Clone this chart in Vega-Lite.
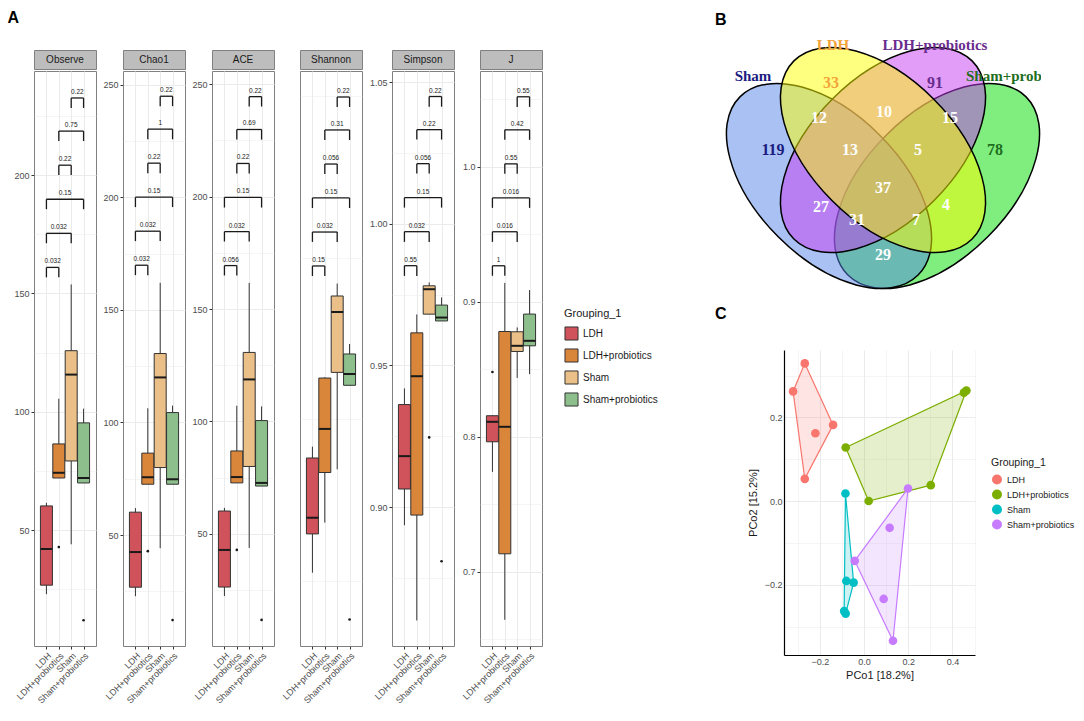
{
"$schema": "https://vega.github.io/schema/vega-lite/v6.json",
"background": "white",
"padding": {"left": 7, "top": 9, "right": 0, "bottom": 0},
"datasets": {
"boxes": [
{"metric":"Observe","group":"LDH","gi":1,"lo":22.9,"q1":26.7,"med":42,"q3":60.2,"hi":61.5},
{"metric":"Observe","group":"LDH+probiotics","gi":2,"lo":72,"q1":72,"med":74.2,"q3":86.4,"hi":105.5},
{"metric":"Observe","group":"Sham","gi":3,"lo":44,"q1":79.2,"med":115.7,"q3":125.8,"hi":153.8},
{"metric":"Observe","group":"Sham+probiotics","gi":4,"lo":69.9,"q1":69.9,"med":72,"q3":95.3,"hi":101.3},
{"metric":"Chao1","group":"LDH","gi":1,"lo":22.9,"q1":26.9,"med":42.5,"q3":60.2,"hi":62},
{"metric":"Chao1","group":"LDH+probiotics","gi":2,"lo":72.6,"q1":72.6,"med":75.7,"q3":86.4,"hi":106.3},
{"metric":"Chao1","group":"Sham","gi":3,"lo":44.2,"q1":80,"med":120,"q3":130.6,"hi":162},
{"metric":"Chao1","group":"Sham+probiotics","gi":4,"lo":72.6,"q1":72.6,"med":74.8,"q3":104.4,"hi":107.5},
{"metric":"ACE","group":"LDH","gi":1,"lo":22.4,"q1":26.4,"med":42.9,"q3":60.2,"hi":61.6},
{"metric":"ACE","group":"LDH+probiotics","gi":2,"lo":72.7,"q1":72.7,"med":75.3,"q3":86.9,"hi":107},
{"metric":"ACE","group":"Sham","gi":3,"lo":43.8,"q1":80,"med":118.7,"q3":130.7,"hi":161.6},
{"metric":"ACE","group":"Sham+probiotics","gi":4,"lo":71.3,"q1":71.3,"med":72.7,"q3":100.4,"hi":106.7},
{"metric":"Shannon","group":"LDH","gi":1,"lo":2.55,"q1":2.79,"med":2.89,"q3":3.26,"hi":3.33},
{"metric":"Shannon","group":"LDH+probiotics","gi":2,"lo":2.86,"q1":3.17,"med":3.44,"q3":3.755,"hi":3.76},
{"metric":"Shannon","group":"Sham","gi":3,"lo":3.19,"q1":3.79,"med":4.164,"q3":4.263,"hi":4.34},
{"metric":"Shannon","group":"Sham+probiotics","gi":4,"lo":3.71,"q1":3.71,"med":3.78,"q3":3.904,"hi":3.966},
{"metric":"Simpson","group":"LDH","gi":1,"lo":0.8936,"q1":0.9064,"med":0.918,"q3":0.9362,"hi":0.9419},
{"metric":"Simpson","group":"LDH+probiotics","gi":2,"lo":0.86,"q1":0.8972,"med":0.9462,"q3":0.9615,"hi":0.968},
{"metric":"Simpson","group":"Sham","gi":3,"lo":0.9681,"q1":0.9681,"med":0.9769,"q3":0.9781,"hi":0.9793},
{"metric":"Simpson","group":"Sham+probiotics","gi":4,"lo":0.9657,"q1":0.9657,"med":0.9669,"q3":0.9713,"hi":0.974},
{"metric":"J","group":"LDH","gi":1,"lo":0.774,"q1":0.7963,"med":0.8111,"q3":0.8156,"hi":0.8156},
{"metric":"J","group":"LDH+probiotics","gi":2,"lo":0.6644,"q1":0.7133,"med":0.8074,"q3":0.878,"hi":0.914},
{"metric":"J","group":"Sham","gi":3,"lo":0.8436,"q1":0.8632,"med":0.8674,"q3":0.8778,"hi":0.881},
{"metric":"J","group":"Sham+probiotics","gi":4,"lo":0.8464,"q1":0.8674,"med":0.8711,"q3":0.8909,"hi":0.9087}
],
"outliers": [
{"metric":"Observe","gi":2,"v":42.8},{"metric":"Observe","gi":4,"v":11.9},
{"metric":"Chao1","gi":2,"v":42.9},{"metric":"Chao1","gi":4,"v":12.3},
{"metric":"ACE","gi":2,"v":42.9},{"metric":"ACE","gi":4,"v":11.8},
{"metric":"Shannon","gi":4,"v":2.26},
{"metric":"Simpson","gi":3,"v":0.9246},{"metric":"Simpson","gi":4,"v":0.8809},
{"metric":"J","gi":1,"v":0.848}
],
"brackets": [
{"metric":"Observe","a":1,"b":2,"mid":1.5,"y":161.0,"yb":156.8,"p":"0.032"},
{"metric":"Observe","a":1,"b":3,"mid":2,"y":175.4,"yb":171.2,"p":"0.032"},
{"metric":"Observe","a":1,"b":4,"mid":2.5,"y":189.8,"yb":185.6,"p":"0.15"},
{"metric":"Observe","a":2,"b":3,"mid":2.5,"y":204.2,"yb":200,"p":"0.22"},
{"metric":"Observe","a":2,"b":4,"mid":3,"y":218.6,"yb":214.4,"p":"0.75"},
{"metric":"Observe","a":3,"b":4,"mid":3.5,"y":232.6,"yb":228.4,"p":"0.22"},
{"metric":"Chao1","a":1,"b":2,"mid":1.5,"y":169.8,"yb":165.4,"p":"0.032"},
{"metric":"Chao1","a":1,"b":3,"mid":2,"y":184.9,"yb":180.5,"p":"0.032"},
{"metric":"Chao1","a":1,"b":4,"mid":2.5,"y":200,"yb":195.6,"p":"0.15"},
{"metric":"Chao1","a":2,"b":3,"mid":2.5,"y":215.1,"yb":210.6,"p":"0.22"},
{"metric":"Chao1","a":2,"b":4,"mid":3,"y":230.2,"yb":225.7,"p":"1"},
{"metric":"Chao1","a":3,"b":4,"mid":3.5,"y":244.8,"yb":240.4,"p":"0.22"},
{"metric":"ACE","a":1,"b":2,"mid":1.5,"y":169.3,"yb":164.9,"p":"0.056"},
{"metric":"ACE","a":1,"b":3,"mid":2,"y":184.4,"yb":180,"p":"0.032"},
{"metric":"ACE","a":1,"b":4,"mid":2.5,"y":199.6,"yb":195.1,"p":"0.15"},
{"metric":"ACE","a":2,"b":3,"mid":2.5,"y":214.7,"yb":210.2,"p":"0.22"},
{"metric":"ACE","a":2,"b":4,"mid":3,"y":229.8,"yb":225.3,"p":"0.69"},
{"metric":"ACE","a":3,"b":4,"mid":3.5,"y":244.4,"yb":240,"p":"0.22"},
{"metric":"Shannon","a":1,"b":2,"mid":1.5,"y":4.449,"yb":4.387,"p":"0.15"},
{"metric":"Shannon","a":1,"b":3,"mid":2,"y":4.659,"yb":4.598,"p":"0.032"},
{"metric":"Shannon","a":1,"b":4,"mid":2.5,"y":4.870,"yb":4.808,"p":"0.15"},
{"metric":"Shannon","a":2,"b":3,"mid":2.5,"y":5.080,"yb":5.019,"p":"0.056"},
{"metric":"Shannon","a":2,"b":4,"mid":3,"y":5.291,"yb":5.229,"p":"0.31"},
{"metric":"Shannon","a":3,"b":4,"mid":3.5,"y":5.495,"yb":5.433,"p":"0.22"},
{"metric":"Simpson","a":1,"b":2,"mid":1.5,"y":0.9852,"yb":0.9816,"p":"0.55"},
{"metric":"Simpson","a":1,"b":3,"mid":2,"y":0.9972,"yb":0.9936,"p":"0.032"},
{"metric":"Simpson","a":1,"b":4,"mid":2.5,"y":1.0092,"yb":1.0057,"p":"0.15"},
{"metric":"Simpson","a":2,"b":3,"mid":2.5,"y":1.0212,"yb":1.0177,"p":"0.056"},
{"metric":"Simpson","a":2,"b":4,"mid":3,"y":1.0332,"yb":1.0297,"p":"0.22"},
{"metric":"Simpson","a":3,"b":4,"mid":3.5,"y":1.0449,"yb":1.0413,"p":"0.22"},
{"metric":"J","a":1,"b":2,"mid":1.5,"y":0.9267,"yb":0.9193,"p":"1"},
{"metric":"J","a":1,"b":3,"mid":2,"y":0.9519,"yb":0.9444,"p":"0.016"},
{"metric":"J","a":1,"b":4,"mid":2.5,"y":0.977,"yb":0.9696,"p":"0.016"},
{"metric":"J","a":2,"b":3,"mid":2.5,"y":1.0022,"yb":0.9948,"p":"0.55"},
{"metric":"J","a":2,"b":4,"mid":3,"y":1.0274,"yb":1.02,"p":"0.42"},
{"metric":"J","a":3,"b":4,"mid":3.5,"y":1.0519,"yb":1.0444,"p":"0.55"}
],
"venn_sets": [
{"set":"Sham+probiotics","x":0.65,"y":0.47},
{"set":"Sham","x":0.35,"y":0.47},
{"set":"LDH+probiotics","x":0.5,"y":0.57},
{"set":"LDH","x":0.5,"y":0.57}
],
"venn_counts": [
{"n":119,"k":1,"own":"Sham","x":0.1944,"y":0.57},
{"n":33,"k":1,"own":"LDH","x":0.3556,"y":0.7561},
{"n":91,"k":1,"own":"LDH+probiotics","x":0.6444,"y":0.7561},
{"n":78,"k":1,"own":"Sham+probiotics","x":0.8111,"y":0.57},
{"n":12,"k":2,"own":"Sham&LDH","x":0.3222,"y":0.6589},
{"n":10,"k":2,"own":"LDH&LDH+probiotics","x":0.5028,"y":0.6756},
{"n":15,"k":2,"own":"LDH+probiotics&Sham+probiotics","x":0.6861,"y":0.6589},
{"n":13,"k":3,"own":"Sham&LDH&LDH+probiotics","x":0.4083,"y":0.57},
{"n":5,"k":3,"own":"LDH&LDH+probiotics&Sham+probiotics","x":0.5972,"y":0.57},
{"n":37,"k":4,"own":"all","x":0.5,"y":0.4644},
{"n":27,"k":2,"own":"Sham&LDH+probiotics","x":0.3278,"y":0.4117},
{"n":31,"k":3,"own":"Sham&LDH+probiotics&Sham+probiotics","x":0.4278,"y":0.3756},
{"n":7,"k":3,"own":"Sham&LDH&Sham+probiotics","x":0.5917,"y":0.3756},
{"n":4,"k":2,"own":"LDH&Sham+probiotics","x":0.675,"y":0.4172},
{"n":29,"k":2,"own":"Sham&Sham+probiotics","x":0.5,"y":0.2783}
],
"venn_labels": [
{"set":"Sham","x":0.1389,"y":0.7756},
{"set":"LDH","x":0.3611,"y":0.8617},
{"set":"LDH+probiotics","x":0.6444,"y":0.8617},
{"set":"Sham+probiotics","x":0.7306,"y":0.7756}
],
"pcoa": [
{"group":"LDH","x":-0.268,"y":0.329},{"group":"LDH","x":-0.321,"y":0.262},{"group":"LDH","x":-0.140,"y":0.182},{"group":"LDH","x":-0.220,"y":0.162},{"group":"LDH","x":-0.268,"y":0.053},
{"group":"LDH+probiotics","x":0.463,"y":0.264},{"group":"LDH+probiotics","x":0.452,"y":0.259},{"group":"LDH+probiotics","x":-0.083,"y":0.128},{"group":"LDH+probiotics","x":0.302,"y":0.038},{"group":"LDH+probiotics","x":0.021,"y":0.000},
{"group":"Sham","x":-0.084,"y":0.018},{"group":"Sham","x":-0.080,"y":-0.191},{"group":"Sham","x":-0.047,"y":-0.195},{"group":"Sham","x":-0.090,"y":-0.263},{"group":"Sham","x":-0.083,"y":-0.269},
{"group":"Sham+probiotics","x":0.199,"y":0.030},{"group":"Sham+probiotics","x":0.116,"y":-0.064},{"group":"Sham+probiotics","x":-0.042,"y":-0.143},{"group":"Sham+probiotics","x":0.089,"y":-0.234},{"group":"Sham+probiotics","x":0.131,"y":-0.334}
],
"hull": [
{"group":"LDH","o":1,"x":-0.268,"y":0.329},{"group":"LDH","o":2,"x":-0.140,"y":0.182},{"group":"LDH","o":3,"x":-0.268,"y":0.053},{"group":"LDH","o":4,"x":-0.321,"y":0.262},
{"group":"LDH+probiotics","o":1,"x":-0.083,"y":0.128},{"group":"LDH+probiotics","o":2,"x":0.463,"y":0.264},{"group":"LDH+probiotics","o":3,"x":0.302,"y":0.038},{"group":"LDH+probiotics","o":4,"x":0.021,"y":0.000},
{"group":"Sham","o":1,"x":-0.084,"y":0.018},{"group":"Sham","o":2,"x":-0.047,"y":-0.195},{"group":"Sham","o":3,"x":-0.083,"y":-0.269},{"group":"Sham","o":4,"x":-0.090,"y":-0.263},
{"group":"Sham+probiotics","o":1,"x":0.199,"y":0.030},{"group":"Sham+probiotics","o":2,"x":0.131,"y":-0.334},{"group":"Sham+probiotics","o":3,"x":-0.042,"y":-0.143}
]
},
"resolve": {"scale": {"color": "independent"}},
"spacing": 57,
"hconcat": [
{
"title": {"text": "A", "anchor": "start", "fontSize": 16, "fontWeight": "bold", "offset": 24, "dx": -6},
"spacing": 5,
"hconcat": [
{"spacing": 0, "vconcat": [
{"width": 62, "height": 19, "view": {"fill": "#bdbdbd", "stroke": "#808080"}, "data": {"values": [{"metric": "Observe"}]}, "mark": {"type": "text", "fontSize": 10, "color": "#1a1a1a"}, "encoding": {"text": {"field": "metric", "type": "nominal"}}},
{"width": 62, "height": 575, "view": {"stroke": "#808080"},
"encoding": {"x": {"field": "gi", "type": "quantitative", "title": null, "scale": {"domain": [0.4, 4.6], "nice": false, "zero": false}, "axis": {"values": [1,2,3,4], "labelExpr": "['LDH','LDH+probiotics','Sham','Sham+probiotics'][datum.value-1]", "labelAngle": -45, "labelAlign": "right", "labelBaseline": "top", "labelOverlap": false, "labelFlush": false}}},
"layer": [
{"data": {"name": "boxes"}, "transform": [{"filter": "datum.metric == 'Observe'"}], "mark": {"type": "rule", "color": "#333333", "strokeWidth": 1}, "encoding": {"y": {"field": "lo", "type": "quantitative", "title": null, "scale": {"domain": [1, 244], "nice": false, "zero": false}, "axis": {"values": [25,50,75,100,125,150,175,200,225], "labelExpr": "datum.value % 50 != 0 ? '' : datum.label", "tickOpacity": {"condition": {"test": "datum.value % 50 != 0", "value": 0}, "value": 1}, "gridWidth": {"condition": {"test": "datum.value % 50 != 0", "value": 0.5}, "value": 1}}}, "y2": {"field": "hi"}}},
{"data": {"name": "boxes"}, "transform": [{"filter": "datum.metric == 'Observe'"}], "mark": {"type": "bar", "size": 12, "orient": "vertical", "stroke": "#333333", "strokeWidth": 1}, "encoding": {"y": {"field": "q1", "type": "quantitative", "title": null}, "y2": {"field": "q3"}, "color": {"field": "group", "type": "nominal", "scale": {"domain": ["LDH","LDH+probiotics","Sham","Sham+probiotics"], "range": ["#D0525A","#D9853A","#EABF88","#8DBF8C"]}, "legend": {"title": "Grouping_1", "orient": "none", "legendX": 530, "legendY": 258, "symbolType": "square", "symbolSize": 170, "symbolStrokeColor": "#333333", "symbolStrokeWidth": 1, "symbolOpacity": 1, "labelFontSize": 10, "titleFontSize": 11, "rowPadding": 3, "titlePadding": 7}}}},
{"data": {"name": "boxes"}, "transform": [{"filter": "datum.metric == 'Observe'"}], "mark": {"type": "tick", "orient": "horizontal", "size": 12, "thickness": 2, "color": "#1a1a1a", "opacity": 1}, "encoding": {"y": {"field": "med", "type": "quantitative", "title": null}}},
{"data": {"name": "outliers"}, "transform": [{"filter": "datum.metric == 'Observe'"}], "mark": {"type": "circle", "size": 7, "color": "#1a1a1a", "opacity": 1}, "encoding": {"y": {"field": "v", "type": "quantitative", "title": null}}},
{"data": {"name": "brackets"}, "transform": [{"filter": "datum.metric == 'Observe'"}], "mark": {"type": "rule", "color": "#1a1a1a", "strokeWidth": 1.3}, "encoding": {"x": {"field": "a", "type": "quantitative", "title": null}, "x2": {"field": "b"}, "y": {"field": "y", "type": "quantitative", "title": null}}},
{"data": {"name": "brackets"}, "transform": [{"filter": "datum.metric == 'Observe'"}], "mark": {"type": "rule", "color": "#1a1a1a", "strokeWidth": 1.3}, "encoding": {"x": {"field": "a", "type": "quantitative", "title": null}, "y": {"field": "y", "type": "quantitative", "title": null}, "y2": {"field": "yb"}}},
{"data": {"name": "brackets"}, "transform": [{"filter": "datum.metric == 'Observe'"}], "mark": {"type": "rule", "color": "#1a1a1a", "strokeWidth": 1.3}, "encoding": {"x": {"field": "b", "type": "quantitative", "title": null}, "y": {"field": "y", "type": "quantitative", "title": null}, "y2": {"field": "yb"}}},
{"data": {"name": "brackets"}, "transform": [{"filter": "datum.metric == 'Observe'"}], "mark": {"type": "text", "fontSize": 6.5, "baseline": "bottom", "dy": -3, "color": "#1a1a1a"}, "encoding": {"x": {"field": "mid", "type": "quantitative", "title": null}, "y": {"field": "y", "type": "quantitative", "title": null}, "text": {"field": "p", "type": "nominal"}}}
]}
]},
{"spacing": 0, "vconcat": [
{"width": 62, "height": 19, "view": {"fill": "#bdbdbd", "stroke": "#808080"}, "data": {"values": [{"metric": "Chao1"}]}, "mark": {"type": "text", "fontSize": 10, "color": "#1a1a1a"}, "encoding": {"text": {"field": "metric", "type": "nominal"}}},
{"width": 62, "height": 575, "view": {"stroke": "#808080"},
"encoding": {"x": {"field": "gi", "type": "quantitative", "title": null, "scale": {"domain": [0.4, 4.6], "nice": false, "zero": false}, "axis": {"values": [1,2,3,4], "labelExpr": "['LDH','LDH+probiotics','Sham','Sham+probiotics'][datum.value-1]", "labelAngle": -45, "labelAlign": "right", "labelBaseline": "top", "labelOverlap": false, "labelFlush": false}}},
"layer": [
{"data": {"name": "boxes"}, "transform": [{"filter": "datum.metric == 'Chao1'"}], "mark": {"type": "rule", "color": "#333333", "strokeWidth": 1}, "encoding": {"y": {"field": "lo", "type": "quantitative", "title": null, "scale": {"domain": [0.8, 256], "nice": false, "zero": false}, "axis": {"values": [25,50,75,100,125,150,175,200,225,250], "labelExpr": "datum.value % 50 != 0 ? '' : datum.label", "tickOpacity": {"condition": {"test": "datum.value % 50 != 0", "value": 0}, "value": 1}, "gridWidth": {"condition": {"test": "datum.value % 50 != 0", "value": 0.5}, "value": 1}}}, "y2": {"field": "hi"}}},
{"data": {"name": "boxes"}, "transform": [{"filter": "datum.metric == 'Chao1'"}], "mark": {"type": "bar", "size": 12, "orient": "vertical", "stroke": "#333333", "strokeWidth": 1}, "encoding": {"y": {"field": "q1", "type": "quantitative", "title": null}, "y2": {"field": "q3"}, "color": {"field": "group", "type": "nominal"}}},
{"data": {"name": "boxes"}, "transform": [{"filter": "datum.metric == 'Chao1'"}], "mark": {"type": "tick", "orient": "horizontal", "size": 12, "thickness": 2, "color": "#1a1a1a", "opacity": 1}, "encoding": {"y": {"field": "med", "type": "quantitative", "title": null}}},
{"data": {"name": "outliers"}, "transform": [{"filter": "datum.metric == 'Chao1'"}], "mark": {"type": "circle", "size": 7, "color": "#1a1a1a", "opacity": 1}, "encoding": {"y": {"field": "v", "type": "quantitative", "title": null}}},
{"data": {"name": "brackets"}, "transform": [{"filter": "datum.metric == 'Chao1'"}], "mark": {"type": "rule", "color": "#1a1a1a", "strokeWidth": 1.3}, "encoding": {"x": {"field": "a", "type": "quantitative", "title": null}, "x2": {"field": "b"}, "y": {"field": "y", "type": "quantitative", "title": null}}},
{"data": {"name": "brackets"}, "transform": [{"filter": "datum.metric == 'Chao1'"}], "mark": {"type": "rule", "color": "#1a1a1a", "strokeWidth": 1.3}, "encoding": {"x": {"field": "a", "type": "quantitative", "title": null}, "y": {"field": "y", "type": "quantitative", "title": null}, "y2": {"field": "yb"}}},
{"data": {"name": "brackets"}, "transform": [{"filter": "datum.metric == 'Chao1'"}], "mark": {"type": "rule", "color": "#1a1a1a", "strokeWidth": 1.3}, "encoding": {"x": {"field": "b", "type": "quantitative", "title": null}, "y": {"field": "y", "type": "quantitative", "title": null}, "y2": {"field": "yb"}}},
{"data": {"name": "brackets"}, "transform": [{"filter": "datum.metric == 'Chao1'"}], "mark": {"type": "text", "fontSize": 6.5, "baseline": "bottom", "dy": -3, "color": "#1a1a1a"}, "encoding": {"x": {"field": "mid", "type": "quantitative", "title": null}, "y": {"field": "y", "type": "quantitative", "title": null}, "text": {"field": "p", "type": "nominal"}}}
]}
]},
{"spacing": 0, "vconcat": [
{"width": 62, "height": 19, "view": {"fill": "#bdbdbd", "stroke": "#808080"}, "data": {"values": [{"metric": "ACE"}]}, "mark": {"type": "text", "fontSize": 10, "color": "#1a1a1a"}, "encoding": {"text": {"field": "metric", "type": "nominal"}}},
{"width": 62, "height": 575, "view": {"stroke": "#808080"},
"encoding": {"x": {"field": "gi", "type": "quantitative", "title": null, "scale": {"domain": [0.4, 4.6], "nice": false, "zero": false}, "axis": {"values": [1,2,3,4], "labelExpr": "['LDH','LDH+probiotics','Sham','Sham+probiotics'][datum.value-1]", "labelAngle": -45, "labelAlign": "right", "labelBaseline": "top", "labelOverlap": false, "labelFlush": false}}},
"layer": [
{"data": {"name": "boxes"}, "transform": [{"filter": "datum.metric == 'ACE'"}], "mark": {"type": "rule", "color": "#333333", "strokeWidth": 1}, "encoding": {"y": {"field": "lo", "type": "quantitative", "title": null, "scale": {"domain": [0.2, 255.8], "nice": false, "zero": false}, "axis": {"values": [25,50,75,100,125,150,175,200,225,250], "labelExpr": "datum.value % 50 != 0 ? '' : datum.label", "tickOpacity": {"condition": {"test": "datum.value % 50 != 0", "value": 0}, "value": 1}, "gridWidth": {"condition": {"test": "datum.value % 50 != 0", "value": 0.5}, "value": 1}}}, "y2": {"field": "hi"}}},
{"data": {"name": "boxes"}, "transform": [{"filter": "datum.metric == 'ACE'"}], "mark": {"type": "bar", "size": 12, "orient": "vertical", "stroke": "#333333", "strokeWidth": 1}, "encoding": {"y": {"field": "q1", "type": "quantitative", "title": null}, "y2": {"field": "q3"}, "color": {"field": "group", "type": "nominal"}}},
{"data": {"name": "boxes"}, "transform": [{"filter": "datum.metric == 'ACE'"}], "mark": {"type": "tick", "orient": "horizontal", "size": 12, "thickness": 2, "color": "#1a1a1a", "opacity": 1}, "encoding": {"y": {"field": "med", "type": "quantitative", "title": null}}},
{"data": {"name": "outliers"}, "transform": [{"filter": "datum.metric == 'ACE'"}], "mark": {"type": "circle", "size": 7, "color": "#1a1a1a", "opacity": 1}, "encoding": {"y": {"field": "v", "type": "quantitative", "title": null}}},
{"data": {"name": "brackets"}, "transform": [{"filter": "datum.metric == 'ACE'"}], "mark": {"type": "rule", "color": "#1a1a1a", "strokeWidth": 1.3}, "encoding": {"x": {"field": "a", "type": "quantitative", "title": null}, "x2": {"field": "b"}, "y": {"field": "y", "type": "quantitative", "title": null}}},
{"data": {"name": "brackets"}, "transform": [{"filter": "datum.metric == 'ACE'"}], "mark": {"type": "rule", "color": "#1a1a1a", "strokeWidth": 1.3}, "encoding": {"x": {"field": "a", "type": "quantitative", "title": null}, "y": {"field": "y", "type": "quantitative", "title": null}, "y2": {"field": "yb"}}},
{"data": {"name": "brackets"}, "transform": [{"filter": "datum.metric == 'ACE'"}], "mark": {"type": "rule", "color": "#1a1a1a", "strokeWidth": 1.3}, "encoding": {"x": {"field": "b", "type": "quantitative", "title": null}, "y": {"field": "y", "type": "quantitative", "title": null}, "y2": {"field": "yb"}}},
{"data": {"name": "brackets"}, "transform": [{"filter": "datum.metric == 'ACE'"}], "mark": {"type": "text", "fontSize": 6.5, "baseline": "bottom", "dy": -3, "color": "#1a1a1a"}, "encoding": {"x": {"field": "mid", "type": "quantitative", "title": null}, "y": {"field": "y", "type": "quantitative", "title": null}, "text": {"field": "p", "type": "nominal"}}}
]}
]},
{"spacing": 0, "vconcat": [
{"width": 62, "height": 19, "view": {"fill": "#bdbdbd", "stroke": "#808080"}, "data": {"values": [{"metric": "Shannon"}]}, "mark": {"type": "text", "fontSize": 10, "color": "#1a1a1a"}, "encoding": {"text": {"field": "metric", "type": "nominal"}}},
{"width": 62, "height": 575, "view": {"stroke": "#808080"},
"encoding": {"x": {"field": "gi", "type": "quantitative", "title": null, "scale": {"domain": [0.4, 4.6], "nice": false, "zero": false}, "axis": {"values": [1,2,3,4], "labelExpr": "['LDH','LDH+probiotics','Sham','Sham+probiotics'][datum.value-1]", "labelAngle": -45, "labelAlign": "right", "labelBaseline": "top", "labelOverlap": false, "labelFlush": false}}},
"layer": [
{"data": {"name": "boxes"}, "transform": [{"filter": "datum.metric == 'Shannon'"}], "mark": {"type": "rule", "color": "#333333", "strokeWidth": 1}, "encoding": {"y": {"field": "lo", "type": "quantitative", "title": null, "scale": {"domain": [2.096, 5.656], "nice": false, "zero": false}, "axis": {"values": [2.5,3,3.5,4,4.5,5,5.5], "format": "d", "labelExpr": "datum.value % 1 != 0 ? '' : datum.label", "tickOpacity": {"condition": {"test": "datum.value % 1 != 0", "value": 0}, "value": 1}, "gridWidth": {"condition": {"test": "datum.value % 1 != 0", "value": 0.5}, "value": 1}}}, "y2": {"field": "hi"}}},
{"data": {"name": "boxes"}, "transform": [{"filter": "datum.metric == 'Shannon'"}], "mark": {"type": "bar", "size": 12, "orient": "vertical", "stroke": "#333333", "strokeWidth": 1}, "encoding": {"y": {"field": "q1", "type": "quantitative", "title": null}, "y2": {"field": "q3"}, "color": {"field": "group", "type": "nominal"}}},
{"data": {"name": "boxes"}, "transform": [{"filter": "datum.metric == 'Shannon'"}], "mark": {"type": "tick", "orient": "horizontal", "size": 12, "thickness": 2, "color": "#1a1a1a", "opacity": 1}, "encoding": {"y": {"field": "med", "type": "quantitative", "title": null}}},
{"data": {"name": "outliers"}, "transform": [{"filter": "datum.metric == 'Shannon'"}], "mark": {"type": "circle", "size": 7, "color": "#1a1a1a", "opacity": 1}, "encoding": {"y": {"field": "v", "type": "quantitative", "title": null}}},
{"data": {"name": "brackets"}, "transform": [{"filter": "datum.metric == 'Shannon'"}], "mark": {"type": "rule", "color": "#1a1a1a", "strokeWidth": 1.3}, "encoding": {"x": {"field": "a", "type": "quantitative", "title": null}, "x2": {"field": "b"}, "y": {"field": "y", "type": "quantitative", "title": null}}},
{"data": {"name": "brackets"}, "transform": [{"filter": "datum.metric == 'Shannon'"}], "mark": {"type": "rule", "color": "#1a1a1a", "strokeWidth": 1.3}, "encoding": {"x": {"field": "a", "type": "quantitative", "title": null}, "y": {"field": "y", "type": "quantitative", "title": null}, "y2": {"field": "yb"}}},
{"data": {"name": "brackets"}, "transform": [{"filter": "datum.metric == 'Shannon'"}], "mark": {"type": "rule", "color": "#1a1a1a", "strokeWidth": 1.3}, "encoding": {"x": {"field": "b", "type": "quantitative", "title": null}, "y": {"field": "y", "type": "quantitative", "title": null}, "y2": {"field": "yb"}}},
{"data": {"name": "brackets"}, "transform": [{"filter": "datum.metric == 'Shannon'"}], "mark": {"type": "text", "fontSize": 6.5, "baseline": "bottom", "dy": -3, "color": "#1a1a1a"}, "encoding": {"x": {"field": "mid", "type": "quantitative", "title": null}, "y": {"field": "y", "type": "quantitative", "title": null}, "text": {"field": "p", "type": "nominal"}}}
]}
]},
{"spacing": 0, "vconcat": [
{"width": 62, "height": 19, "view": {"fill": "#bdbdbd", "stroke": "#808080"}, "data": {"values": [{"metric": "Simpson"}]}, "mark": {"type": "text", "fontSize": 10, "color": "#1a1a1a"}, "encoding": {"text": {"field": "metric", "type": "nominal"}}},
{"width": 62, "height": 575, "view": {"stroke": "#808080"},
"encoding": {"x": {"field": "gi", "type": "quantitative", "title": null, "scale": {"domain": [0.4, 4.6], "nice": false, "zero": false}, "axis": {"values": [1,2,3,4], "labelExpr": "['LDH','LDH+probiotics','Sham','Sham+probiotics'][datum.value-1]", "labelAngle": -45, "labelAlign": "right", "labelBaseline": "top", "labelOverlap": false, "labelFlush": false}}},
"layer": [
{"data": {"name": "boxes"}, "transform": [{"filter": "datum.metric == 'Simpson'"}], "mark": {"type": "rule", "color": "#333333", "strokeWidth": 1}, "encoding": {"y": {"field": "lo", "type": "quantitative", "title": null, "scale": {"domain": [0.851, 1.0539], "nice": false, "zero": false}, "axis": {"values": [0.875,0.9,0.925,0.95,0.975,1.0,1.025,1.05], "format": ".2f", "labelExpr": "round(datum.value*1000) % 50 != 0 ? '' : datum.label", "tickOpacity": {"condition": {"test": "round(datum.value*1000) % 50 != 0", "value": 0}, "value": 1}, "gridWidth": {"condition": {"test": "round(datum.value*1000) % 50 != 0", "value": 0.5}, "value": 1}}}, "y2": {"field": "hi"}}},
{"data": {"name": "boxes"}, "transform": [{"filter": "datum.metric == 'Simpson'"}], "mark": {"type": "bar", "size": 12, "orient": "vertical", "stroke": "#333333", "strokeWidth": 1}, "encoding": {"y": {"field": "q1", "type": "quantitative", "title": null}, "y2": {"field": "q3"}, "color": {"field": "group", "type": "nominal"}}},
{"data": {"name": "boxes"}, "transform": [{"filter": "datum.metric == 'Simpson'"}], "mark": {"type": "tick", "orient": "horizontal", "size": 12, "thickness": 2, "color": "#1a1a1a", "opacity": 1}, "encoding": {"y": {"field": "med", "type": "quantitative", "title": null}}},
{"data": {"name": "outliers"}, "transform": [{"filter": "datum.metric == 'Simpson'"}], "mark": {"type": "circle", "size": 7, "color": "#1a1a1a", "opacity": 1}, "encoding": {"y": {"field": "v", "type": "quantitative", "title": null}}},
{"data": {"name": "brackets"}, "transform": [{"filter": "datum.metric == 'Simpson'"}], "mark": {"type": "rule", "color": "#1a1a1a", "strokeWidth": 1.3}, "encoding": {"x": {"field": "a", "type": "quantitative", "title": null}, "x2": {"field": "b"}, "y": {"field": "y", "type": "quantitative", "title": null}}},
{"data": {"name": "brackets"}, "transform": [{"filter": "datum.metric == 'Simpson'"}], "mark": {"type": "rule", "color": "#1a1a1a", "strokeWidth": 1.3}, "encoding": {"x": {"field": "a", "type": "quantitative", "title": null}, "y": {"field": "y", "type": "quantitative", "title": null}, "y2": {"field": "yb"}}},
{"data": {"name": "brackets"}, "transform": [{"filter": "datum.metric == 'Simpson'"}], "mark": {"type": "rule", "color": "#1a1a1a", "strokeWidth": 1.3}, "encoding": {"x": {"field": "b", "type": "quantitative", "title": null}, "y": {"field": "y", "type": "quantitative", "title": null}, "y2": {"field": "yb"}}},
{"data": {"name": "brackets"}, "transform": [{"filter": "datum.metric == 'Simpson'"}], "mark": {"type": "text", "fontSize": 6.5, "baseline": "bottom", "dy": -3, "color": "#1a1a1a"}, "encoding": {"x": {"field": "mid", "type": "quantitative", "title": null}, "y": {"field": "y", "type": "quantitative", "title": null}, "text": {"field": "p", "type": "nominal"}}}
]}
]},
{"spacing": 0, "vconcat": [
{"width": 62, "height": 19, "view": {"fill": "#bdbdbd", "stroke": "#808080"}, "data": {"values": [{"metric": "J"}]}, "mark": {"type": "text", "fontSize": 10, "color": "#1a1a1a"}, "encoding": {"text": {"field": "metric", "type": "nominal"}}},
{"width": 62, "height": 575, "view": {"stroke": "#808080"},
"encoding": {"x": {"field": "gi", "type": "quantitative", "title": null, "scale": {"domain": [0.4, 4.6], "nice": false, "zero": false}, "axis": {"values": [1,2,3,4], "labelExpr": "['LDH','LDH+probiotics','Sham','Sham+probiotics'][datum.value-1]", "labelAngle": -45, "labelAlign": "right", "labelBaseline": "top", "labelOverlap": false, "labelFlush": false}}},
"layer": [
{"data": {"name": "boxes"}, "transform": [{"filter": "datum.metric == 'J'"}], "mark": {"type": "rule", "color": "#333333", "strokeWidth": 1}, "encoding": {"y": {"field": "lo", "type": "quantitative", "title": null, "scale": {"domain": [0.645, 1.071], "nice": false, "zero": false}, "axis": {"values": [0.65,0.7,0.75,0.8,0.85,0.9,0.95,1.0,1.05], "format": ".1f", "labelExpr": "round(datum.value*100) % 10 != 0 ? '' : datum.label", "tickOpacity": {"condition": {"test": "round(datum.value*100) % 10 != 0", "value": 0}, "value": 1}, "gridWidth": {"condition": {"test": "round(datum.value*100) % 10 != 0", "value": 0.5}, "value": 1}}}, "y2": {"field": "hi"}}},
{"data": {"name": "boxes"}, "transform": [{"filter": "datum.metric == 'J'"}], "mark": {"type": "bar", "size": 12, "orient": "vertical", "stroke": "#333333", "strokeWidth": 1}, "encoding": {"y": {"field": "q1", "type": "quantitative", "title": null}, "y2": {"field": "q3"}, "color": {"field": "group", "type": "nominal"}}},
{"data": {"name": "boxes"}, "transform": [{"filter": "datum.metric == 'J'"}], "mark": {"type": "tick", "orient": "horizontal", "size": 12, "thickness": 2, "color": "#1a1a1a", "opacity": 1}, "encoding": {"y": {"field": "med", "type": "quantitative", "title": null}}},
{"data": {"name": "outliers"}, "transform": [{"filter": "datum.metric == 'J'"}], "mark": {"type": "circle", "size": 7, "color": "#1a1a1a", "opacity": 1}, "encoding": {"y": {"field": "v", "type": "quantitative", "title": null}}},
{"data": {"name": "brackets"}, "transform": [{"filter": "datum.metric == 'J'"}], "mark": {"type": "rule", "color": "#1a1a1a", "strokeWidth": 1.3}, "encoding": {"x": {"field": "a", "type": "quantitative", "title": null}, "x2": {"field": "b"}, "y": {"field": "y", "type": "quantitative", "title": null}}},
{"data": {"name": "brackets"}, "transform": [{"filter": "datum.metric == 'J'"}], "mark": {"type": "rule", "color": "#1a1a1a", "strokeWidth": 1.3}, "encoding": {"x": {"field": "a", "type": "quantitative", "title": null}, "y": {"field": "y", "type": "quantitative", "title": null}, "y2": {"field": "yb"}}},
{"data": {"name": "brackets"}, "transform": [{"filter": "datum.metric == 'J'"}], "mark": {"type": "rule", "color": "#1a1a1a", "strokeWidth": 1.3}, "encoding": {"x": {"field": "b", "type": "quantitative", "title": null}, "y": {"field": "y", "type": "quantitative", "title": null}, "y2": {"field": "yb"}}},
{"data": {"name": "brackets"}, "transform": [{"filter": "datum.metric == 'J'"}], "mark": {"type": "text", "fontSize": 6.5, "baseline": "bottom", "dy": -3, "color": "#1a1a1a"}, "encoding": {"x": {"field": "mid", "type": "quantitative", "title": null}, "y": {"field": "y", "type": "quantitative", "title": null}, "text": {"field": "p", "type": "nominal"}}}
]}
]}
]
},
{
"spacing": 10,
"resolve": {"scale": {"color": "independent", "fill": "independent", "shape": "independent"}},
"vconcat": [
{
"width": 257, "height": 246,
"title": {"text": "B", "anchor": "start", "frame": "group", "fontSize": 16, "fontWeight": "bold", "dx": -69, "dy": -6, "offset": 4},
"view": {"stroke": null},
"layer": [
{"data": {"name": "venn_sets"},
 "mark": {"type": "point", "size": 63504, "filled": true, "opacity": 1, "fillOpacity": 0.5, "stroke": "black", "strokeWidth": 1.5, "strokeOpacity": 1, "clip": false},
 "encoding": {"x": {"field": "x", "type": "quantitative", "scale": {"domain": [0.225, 0.9389], "nice": false, "zero": false}, "axis": null}, "y": {"field": "y", "type": "quantitative", "scale": {"domain": [0.1644, 0.8478], "nice": false, "zero": false}, "axis": null},
  "fill": {"field": "set", "type": "nominal", "scale": {"domain": ["Sham","LDH","LDH+probiotics","Sham+probiotics"], "range": ["#5585E8","#FFFF00","#C43CF0","#00DD00"]}, "legend": null},
  "shape": {"field": "set", "type": "nominal", "scale": {"domain": ["Sham","LDH","LDH+probiotics","Sham+probiotics"], "range": ["M0.7071,0.7071C0.4845,0.9297 -0.0125,0.7936 -0.4031,0.4031C-0.7936,0.0125 -0.9297,-0.4845 -0.7071,-0.7071C-0.4845,-0.9297 0.0125,-0.7936 0.4031,-0.4031C0.7936,-0.0125 0.9297,0.4845 0.7071,0.7071Z","M0.7071,0.7071C0.4845,0.9297 -0.0125,0.7936 -0.4031,0.4031C-0.7936,0.0125 -0.9297,-0.4845 -0.7071,-0.7071C-0.4845,-0.9297 0.0125,-0.7936 0.4031,-0.4031C0.7936,-0.0125 0.9297,0.4845 0.7071,0.7071Z","M-0.7071,0.7071C-0.4845,0.9297 0.0125,0.7936 0.4031,0.4031C0.7936,0.0125 0.9297,-0.4845 0.7071,-0.7071C0.4845,-0.9297 -0.0125,-0.7936 -0.4031,-0.4031C-0.7936,-0.0125 -0.9297,0.4845 -0.7071,0.7071Z","M-0.7071,0.7071C-0.4845,0.9297 0.0125,0.7936 0.4031,0.4031C0.7936,0.0125 0.9297,-0.4845 0.7071,-0.7071C0.4845,-0.9297 -0.0125,-0.7936 -0.4031,-0.4031C-0.7936,-0.0125 -0.9297,0.4845 -0.7071,0.7071Z"]}, "legend": null}}},
{"data": {"name": "venn_counts"},
 "mark": {"type": "text", "font": "Liberation Serif", "fontWeight": "bold", "fontSize": 16},
 "encoding": {"x": {"field": "x", "type": "quantitative"}, "y": {"field": "y", "type": "quantitative"}, "text": {"field": "n", "type": "nominal"}, "color": {"condition": {"test": "datum.k > 1", "value": "white"}, "field": "own", "type": "nominal", "scale": {"domain": ["Sham","LDH","LDH+probiotics","Sham+probiotics"], "range": ["#1B1B80","#F2A33A","#6A2C8E","#1E6E1E"]}, "legend": null}}},
{"data": {"name": "venn_labels"}, "transform": [{"filter": "datum.set != 'Sham+probiotics'"}],
 "mark": {"type": "text", "font": "Liberation Serif", "fontWeight": "bold", "fontSize": 15},
 "encoding": {"x": {"field": "x", "type": "quantitative"}, "y": {"field": "y", "type": "quantitative"}, "text": {"field": "set", "type": "nominal"}, "color": {"field": "set", "type": "nominal", "legend": null}}},
{"data": {"name": "venn_labels"}, "transform": [{"filter": "datum.set == 'Sham+probiotics'"}],
 "mark": {"type": "text", "font": "Liberation Serif", "fontWeight": "bold", "fontSize": 15, "align": "left", "clip": true},
 "encoding": {"x": {"field": "x", "type": "quantitative"}, "y": {"field": "y", "type": "quantitative"}, "text": {"field": "set", "type": "nominal"}, "color": {"field": "set", "type": "nominal", "legend": null}}}
]
},
{
"width": 191, "height": 305,
"title": {"text": "C", "anchor": "start", "frame": "group", "fontSize": 16, "fontWeight": "bold", "dx": -69, "offset": 28},
"view": {"stroke": null},
"encoding": {
  "x": {"field": "x", "type": "quantitative", "title": "PCo1 [18.2%]", "scale": {"domain": [-0.362, 0.502], "nice": false, "zero": false}, "axis": {"values": [-0.3,-0.2,-0.1,0,0.1,0.2,0.3,0.4,0.5], "format": ".1f", "labelExpr": "abs(datum.value*10 % 2) > 0.5 ? '' : datum.label", "ticks": false, "domain": true, "domainColor": "black", "domainWidth": 1.2, "labelFlush": false, "gridWidth": {"condition": {"test": "abs(datum.value*10 % 2) > 0.5", "value": 0.5}, "value": 1}, "titleFontSize": 11, "titlePadding": 3}},
  "y": {"field": "y", "type": "quantitative", "title": "PCo2 [15.2%]", "scale": {"domain": [-0.368, 0.361], "nice": false, "zero": false}, "axis": {"values": [-0.3,-0.2,-0.1,0,0.1,0.2,0.3], "format": ".1f", "labelExpr": "abs(datum.value*10 % 2) > 0.5 ? '' : datum.label", "ticks": false, "domain": true, "domainColor": "black", "domainWidth": 1.2, "gridWidth": {"condition": {"test": "abs(datum.value*10 % 2) > 0.5", "value": 0.5}, "value": 1}, "titleFontSize": 11, "titlePadding": 6}}
},
"layer": [
{"data": {"name": "hull"}, "transform": [{"filter": "datum.group == 'LDH'"}], "mark": {"type": "line", "interpolate": "linear-closed", "stroke": "#F8766D", "fill": "#F8766D", "fillOpacity": 0.2, "strokeWidth": 1.2}, "encoding": {"order": {"field": "o", "type": "quantitative"}}},
{"data": {"name": "hull"}, "transform": [{"filter": "datum.group == 'LDH+probiotics'"}], "mark": {"type": "line", "interpolate": "linear-closed", "stroke": "#7CAE00", "fill": "#7CAE00", "fillOpacity": 0.2, "strokeWidth": 1.2}, "encoding": {"order": {"field": "o", "type": "quantitative"}}},
{"data": {"name": "hull"}, "transform": [{"filter": "datum.group == 'Sham'"}], "mark": {"type": "line", "interpolate": "linear-closed", "stroke": "#00BFC4", "fill": "#00BFC4", "fillOpacity": 0.2, "strokeWidth": 1.2}, "encoding": {"order": {"field": "o", "type": "quantitative"}}},
{"data": {"name": "hull"}, "transform": [{"filter": "datum.group == 'Sham+probiotics'"}], "mark": {"type": "line", "interpolate": "linear-closed", "stroke": "#C77CFF", "fill": "#C77CFF", "fillOpacity": 0.2, "strokeWidth": 1.2}, "encoding": {"order": {"field": "o", "type": "quantitative"}}},
{"data": {"name": "pcoa"},
 "mark": {"type": "circle", "size": 75, "opacity": 1},
 "encoding": {
  "color": {"field": "group", "type": "nominal", "scale": {"domain": ["LDH","LDH+probiotics","Sham","Sham+probiotics"], "range": ["#F8766D","#7CAE00","#00BFC4","#C77CFF"]},
   "legend": {"title": "Grouping_1", "orient": "none", "legendX": 207, "legendY": 108, "symbolType": "circle", "symbolSize": 100, "labelFontSize": 9, "titleFontSize": 10.5, "rowPadding": 4}}}}
]
}
]
}
],
"config": {
 "font": "Liberation Sans",
 "view": {"stroke": null},
 "axis": {"labelFontSize": 9, "labelColor": "#4d4d4d", "tickColor": "#333333", "tickSize": 3, "gridColor": "#ebebeb", "domain": false, "titleFontWeight": "normal", "titleColor": "#1a1a1a", "labelPadding": 2},
 "legend": {"titleFontWeight": "normal", "labelColor": "#1a1a1a", "titleColor": "#1a1a1a"},
 "title": {"font": "Liberation Sans", "color": "#000000"}
}
}
